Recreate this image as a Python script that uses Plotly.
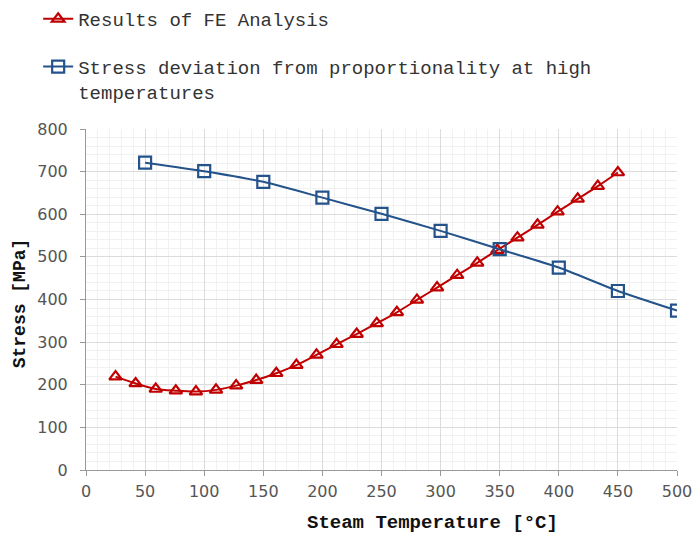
import plotly.graph_objects as go

# FE analysis results: steam temperature [°C] vs stress [MPa]
fe_temp = [25, 42, 59, 76, 93, 110, 127, 144, 161, 178, 195, 212, 229,
           246, 263, 280, 297, 314, 331, 348, 365, 382, 399, 416, 433, 450]
fe_stress = [219, 203, 190, 186, 184, 188, 198, 211, 227, 246, 270, 295, 319,
             344, 370, 399, 428, 457, 486, 516, 545, 575, 606, 636, 666, 698]

# Stress deviation from proportionality at high temperatures
dev_temp = [50, 100, 150, 200, 250, 300, 350, 400, 450, 500]
dev_stress = [721, 701, 676, 639, 601, 561, 518, 475, 420, 374]

x_ticks = [0, 50, 100, 150, 200, 250, 300, 350, 400, 450, 500]
y_ticks = [0, 100, 200, 300, 400, 500, 600, 700, 800]

RED = "#c00000"
BLUE = "#24528a"
MONO = "Liberation Mono"

fig = go.Figure()
fig.add_trace(go.Scatter(
    x=fe_temp, y=fe_stress, name="Results of FE Analysis",
    mode="lines+markers", line=dict(color=RED, width=2, shape="spline", smoothing=0.8),
    marker=dict(symbol="triangle-up-open", size=11, color=RED, line=dict(width=2.2)),
    legendgroup="a",
))
fig.add_trace(go.Scatter(
    x=dev_temp, y=dev_stress,
    name="Stress deviation from proportionality at high<br>temperatures",
    mode="lines+markers", line=dict(color=BLUE, width=2, shape="spline", smoothing=0.6),
    marker=dict(symbol="square-open", size=12, color=BLUE, line=dict(width=2.2)),
    legendgroup="b",
))

axis_common = dict(
    showline=True, linecolor="#999999", linewidth=1,
    ticks="outside", ticklen=5, tickcolor="#999999",
    gridcolor="#dcdcdc", gridwidth=1,
    tickfont=dict(family="DejaVu Sans", size=16, color="#555555"),
    zeroline=False, automargin=False,
)

fig.update_xaxes(
    range=[0, 500], tickvals=x_ticks, tickangle=0, ticklabelstandoff=2, **axis_common,
    minor=dict(dtick=10, showgrid=True, gridcolor="#f1f1f1", gridwidth=1, ticks=""),
)
fig.update_yaxes(
    range=[0, 800], tickvals=y_ticks, ticklabelstandoff=9, **axis_common,
    minor=dict(dtick=20, showgrid=True, gridcolor="#f1f1f1", gridwidth=1, ticks=""),
)

# Axis titles
fig.add_annotation(
    text="<b>Steam Temperature [°C]</b>", xref="paper", yref="paper",
    x=0.587, y=-0.155, xanchor="center", yanchor="middle", showarrow=False,
    font=dict(family=MONO, size=19, color="#111111"),
)
fig.add_annotation(
    text="<b>Stress [MPa]</b>", xref="paper", yref="paper", textangle=-90,
    x=-0.111, y=0.49, xanchor="center", yanchor="middle", showarrow=False,
    font=dict(family=MONO, size=18, color="#111111"),
)

fig.update_layout(
    width=694, height=536,
    margin=dict(l=86, r=17, t=129, b=66, autoexpand=False),
    paper_bgcolor="white", plot_bgcolor="white",
    legend=dict(
        x=0.055, y=1.0, xref="container", yref="container",
        xanchor="left", yanchor="top",
        orientation="v", traceorder="grouped", tracegroupgap=20,
        valign="top",
        font=dict(family=MONO, size=19, color="#333333"),
        bgcolor="rgba(0,0,0,0)",
    ),
    showlegend=True,
)

fig.write_html("out.html")
